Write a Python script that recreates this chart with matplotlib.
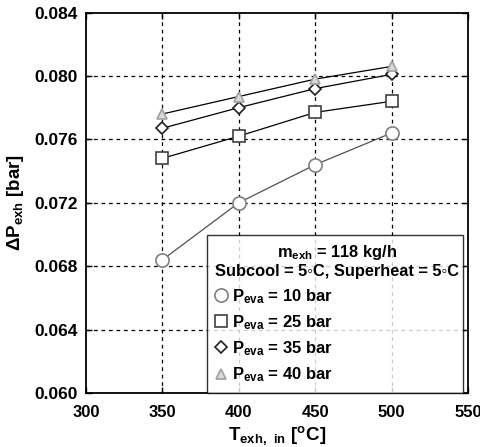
import numpy as np
import matplotlib.pyplot as plt

plt.rcParams['font.family'] = ['Liberation Sans', 'DejaVu Sans']
plt.rcParams['font.weight'] = 'bold'
plt.rcParams['mathtext.fontset'] = 'custom'
plt.rcParams['mathtext.rm'] = 'Liberation Sans:bold'
plt.rcParams['mathtext.default'] = 'rm'

# data
t_exh = [350, 400, 450, 500]
dp_10 = [0.0684, 0.0720, 0.0744, 0.0764]
dp_25 = [0.0748, 0.0762, 0.0777, 0.0784]
dp_35 = [0.0767, 0.0780, 0.0792, 0.0801]
dp_40 = [0.0776, 0.0787, 0.0798, 0.0806]
labels = ['P$_{eva}$ = 10 bar', 'P$_{eva}$ = 25 bar',
          'P$_{eva}$ = 35 bar', 'P$_{eva}$ = 40 bar']

fig = plt.figure(figsize=(4.81, 4.47), dpi=100)
ax = fig.add_axes([0.179, 0.121, 0.794, 0.851])

series = [dp_10, dp_25, dp_35, dp_40]
markers = ['o', 's', 'D', '^']
edges = ['#808080', '#404040', '#202020', '#a0a0a0']
faces = ['white', 'white', 'white', '#d8d8d8']
sizes = [9.5, 8, 6.5, 7]
lcols = ['#505050', 'black', 'black', 'black']

handles = []
for y, m, ec, fc, ms, lc in zip(series, markers, edges, faces, sizes, lcols):
    ax.plot(t_exh, y, '-', color=lc, lw=0.9, zorder=2)
    h, = ax.plot(t_exh, y, ls='none', marker=m, ms=ms, mfc=fc, mec=ec,
                 mew=1.2, zorder=3)
    handles.append(h)

ax.set_xlim(300, 550)
ax.set_ylim(0.060, 0.084)
ax.set_xticks([300, 350, 400, 450, 500, 550])
ax.set_yticks(np.arange(0.060, 0.0841, 0.004))
ax.set_yticklabels(['%.3f' % v for v in np.arange(0.060, 0.0841, 0.004)])
ax.tick_params(direction='in', length=4, width=1, labelsize=12.5, pad=6,
               top=True, right=True)
ax.tick_params(axis='x', pad=9, labelsize=12)
for lab in ax.get_xticklabels() + ax.get_yticklabels():
    lab.set_fontweight('bold')
for s in ax.spines.values():
    s.set_linewidth(1.3)

for xv in [350, 400, 450, 500]:
    ax.axvline(xv, color='black', lw=0.9, ls=(0, (3, 3)), zorder=1)
for yv in [0.064, 0.068, 0.072, 0.076, 0.080]:
    ax.axhline(yv, color='black', lw=0.9, ls=(0, (3, 3)), zorder=1)

ax.set_xlabel('T$_{exh,\\ in}$ [$^{o}$C]', fontsize=13.5, fontweight='bold',
              labelpad=3)
ax.set_ylabel('$\\Delta$P$_{exh}$ [bar]', fontsize=13.5, fontweight='bold',
              labelpad=6)

leg = ax.legend(handles, labels, loc='upper left',
                bbox_to_anchor=(0.317, 0.008, 0.67, 0.408), mode='expand',
                fontsize=12,
                title='m$_{exh}$ = 118 kg/h\nSubcool = 5\u25e6C, Superheat = 5\u25e6C',
                title_fontproperties={'size': 11.8, 'weight': 'bold'},
                frameon=True, fancybox=False, edgecolor='black',
                handlelength=0.7, handletextpad=0.3, borderpad=0.5,
                labelspacing=0.45, borderaxespad=0)
leg.get_frame().set_linewidth(1.0)
leg._legend_box.align = 'left'
leg.get_title().set_ha('center')

fig.savefig('out.png', dpi=100)
